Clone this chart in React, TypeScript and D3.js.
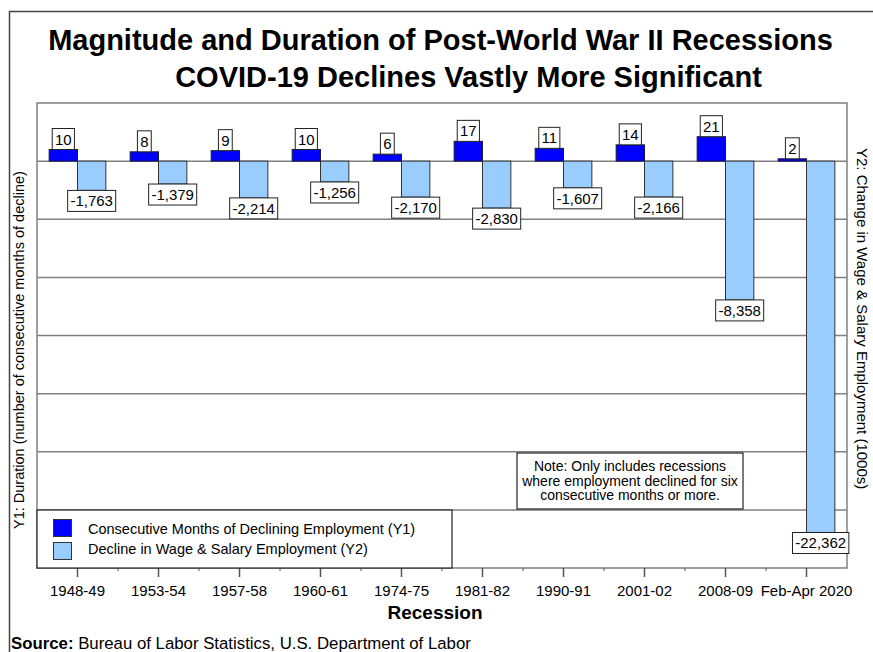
import * as d3 from "d3";
import { useEffect, useRef } from "react";

// chart data
const recessions = [
  "1948-49",
  "1953-54",
  "1957-58",
  "1960-61",
  "1974-75",
  "1981-82",
  "1990-91",
  "2001-02",
  "2008-09",
  "Feb-Apr 2020",
];
const durationMonths = [10, 8, 9, 10, 6, 17, 11, 14, 21, 2];
const employmentChange = [-1763, -1379, -2214, -1256, -2170, -2830, -1607, -2166, -8358, -22362];

const titleLines = [
  "Magnitude and Duration of Post-World War II Recessions",
  "COVID-19 Declines Vastly More Significant",
];
const legendLabels = [
  "Consecutive Months of Declining Employment (Y1)",
  "Decline in Wage & Salary Employment (Y2)",
];
const noteLines = [
  "Note: Only includes recessions",
  "where employment declined for six",
  "consecutive months or more.",
];

const FONT = "'Liberation Sans', Arial, sans-serif";
const DARK = "#0000FF";
const LIGHT = "#99CCFF";

const App = () => {
  const svgRef = useRef<SVGSVGElement>(null);

  useEffect(() => {
    const w = 873;
    const h = 652;
    const svg = d3.select(svgRef.current);
    svg.selectAll("*").remove();
    svg.attr("width", w).attr("height", h).style("font-family", FONT);

    // plot box
    const left = 37;
    const right = 847;
    const top = 103;
    const bottom = 568;

    const x = d3.scaleBand().domain(recessions).range([left, right]);
    const bw = x.bandwidth() * 0.35;
    const y1 = d3.scaleLinear().domain([-350, 50]).range([bottom, top]);
    const y2 = d3.scaleLinear().domain([-24500, 3500]).range([bottom, top]);

    // outer frame
    svg
      .append("rect")
      .attr("x", 9.5)
      .attr("y", 11.5)
      .attr("width", w)
      .attr("height", h)
      .attr("fill", "none")
      .attr("stroke", "#444")
      .attr("stroke-width", 1.5);

    // titles
    svg
      .append("text")
      .attr("x", 440.5)
      .attr("y", 50)
      .attr("text-anchor", "middle")
      .attr("font-size", 29)
      .attr("font-weight", "bold")
      .text(titleLines[0]);
    svg
      .append("text")
      .attr("x", 468.5)
      .attr("y", 87)
      .attr("text-anchor", "middle")
      .attr("font-size", 29)
      .attr("font-weight", "bold")
      .text(titleLines[1]);

    // gridlines
    svg
      .append("g")
      .selectAll("line")
      .data(d3.range(-300, 50, 50))
      .enter()
      .append("line")
      .attr("x1", left)
      .attr("x2", right)
      .attr("y1", (d) => y1(d))
      .attr("y2", (d) => y1(d))
      .attr("stroke", "#808080")
      .attr("stroke-width", 1.5);

    // plot border
    svg
      .append("rect")
      .attr("x", left)
      .attr("y", top)
      .attr("width", right - left)
      .attr("height", bottom - top)
      .attr("fill", "none")
      .attr("stroke", "#808080")
      .attr("stroke-width", 1.5);

    // x axis ticks
    const xAxis = svg.append("g");
    xAxis
      .selectAll(".major")
      .data(recessions)
      .enter()
      .append("line")
      .attr("x1", (d) => x(d)! + x.bandwidth() / 2)
      .attr("x2", (d) => x(d)! + x.bandwidth() / 2)
      .attr("y1", bottom)
      .attr("y2", bottom + 9)
      .attr("stroke", "#555")
      .attr("stroke-width", 1.5);
    xAxis
      .selectAll(".minor")
      .data(recessions.slice(1))
      .enter()
      .append("line")
      .attr("x1", (d) => x(d)!)
      .attr("x2", (d) => x(d)!)
      .attr("y1", bottom)
      .attr("y2", bottom + 3)
      .attr("stroke", "#555");
    xAxis
      .selectAll("text")
      .data(recessions)
      .enter()
      .append("text")
      .attr("x", (d) => x(d)! + x.bandwidth() / 2)
      .attr("y", 596)
      .attr("text-anchor", "middle")
      .attr("font-size", 15)
      .text((d) => d);

    svg
      .append("text")
      .attr("x", 435)
      .attr("y", 619)
      .attr("text-anchor", "middle")
      .attr("font-size", 19)
      .attr("font-weight", "bold")
      .text("Recession");

    // axis titles
    svg
      .append("text")
      .attr("transform", "translate(24,529) rotate(-90)")
      .attr("font-size", 14.5)
      .text("Y1: Duration (number of consecutive months of decline)");
    svg
      .append("text")
      .attr("transform", "translate(857,148) rotate(90)")
      .attr("font-size", 15)
      .text("Y2: Change in Wage & Salary Employment (1000s)");

    // bars
    const rows = recessions.map((r, i) => ({
      r,
      months: durationMonths[i],
      change: employmentChange[i],
    }));
    const cx = (d: any) => x(d.r)! + x.bandwidth() / 2;

    svg
      .append("g")
      .selectAll("rect")
      .data(rows)
      .enter()
      .append("rect")
      .attr("x", (d) => cx(d) - bw)
      .attr("y", (d) => y1(d.months))
      .attr("width", bw)
      .attr("height", (d) => y1(0) - y1(d.months))
      .attr("fill", DARK)
      .attr("stroke", "#1a1a3a")
      .attr("stroke-width", 1);

    svg
      .append("g")
      .selectAll("rect")
      .data(rows)
      .enter()
      .append("rect")
      .attr("x", (d) => cx(d))
      .attr("y", y2(0))
      .attr("width", bw)
      .attr("height", (d) => y2(d.change) - y2(0))
      .attr("fill", LIGHT)
      .attr("stroke", "#333")
      .attr("stroke-width", 1);

    // data labels in boxes
    const addLabel = (lx: number, ly: number, txt: string, above: boolean) => {
      const g = svg.append("g");
      const rect = g.append("rect");
      const t = g
        .append("text")
        .attr("x", lx)
        .attr("text-anchor", "middle")
        .attr("font-size", 15)
        .text(txt);
      const tw = (t.node() as SVGTextElement).getComputedTextLength();
      const bh = 21;
      const by = above ? ly - bh : ly;
      t.attr("y", by + 16);
      rect
        .attr("x", lx - tw / 2 - 2.75)
        .attr("y", by)
        .attr("width", tw + 5.5)
        .attr("height", bh)
        .attr("fill", "white")
        .attr("stroke", "#222")
        .attr("stroke-width", 1);
    };
    const fmt = d3.format(",");
    rows.forEach((d) => {
      addLabel(cx(d) - bw / 2, y1(d.months), String(d.months), true);
      addLabel(cx(d) + bw / 2, y2(d.change), fmt(d.change).replace("\u2212", "-"), false);
    });

    // note box
    const note = svg.append("g");
    note
      .append("rect")
      .attr("x", 517)
      .attr("y", 453)
      .attr("width", 226)
      .attr("height", 56)
      .attr("fill", "white")
      .attr("stroke", "#222")
      .attr("stroke-width", 1.2);
    note
      .selectAll("text")
      .data(noteLines)
      .enter()
      .append("text")
      .attr("x", 630)
      .attr("y", (d, i) => 471 + i * 14.5)
      .attr("text-anchor", "middle")
      .attr("font-size", 14)
      .text((d) => d);

    // legend
    const legend = svg.append("g");
    legend
      .append("rect")
      .attr("x", left)
      .attr("y", 510)
      .attr("width", 415)
      .attr("height", bottom - 510)
      .attr("fill", "white")
      .attr("stroke", "#222")
      .attr("stroke-width", 1.2);
    [DARK, LIGHT].forEach((c, i) => {
      legend
        .append("rect")
        .attr("x", 53.5)
        .attr("y", 519.5 + i * 23)
        .attr("width", 18)
        .attr("height", 17)
        .attr("fill", c)
        .attr("stroke", "#333");
      legend
        .append("text")
        .attr("x", 88)
        .attr("y", 534 + i * 20)
        .attr("font-size", 14.5)
        .text(legendLabels[i]);
    });

    // source line
    const src = svg.append("text").attr("x", 11).attr("y", 649).attr("font-size", 16.8);
    src.append("tspan").attr("font-weight", "bold").text("Source:");
    src.append("tspan").text(" Bureau of Labor Statistics, U.S. Department of Labor");
  }, []);

  return <svg ref={svgRef} style={{ position: "absolute", left: 0, top: 0 }}></svg>;
};

export default App;
